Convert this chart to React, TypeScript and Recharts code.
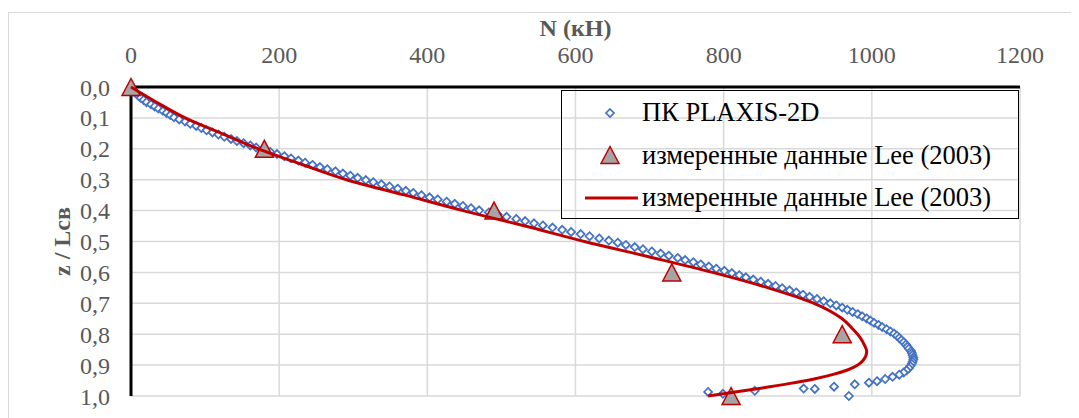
import { ScatterChart, Scatter, XAxis, YAxis, CartesianGrid, Legend } from "recharts";

const FONT = '"Liberation Serif", "Times New Roman", serif';

const X_TICKS = [0, 200, 400, 600, 800, 1000, 1200];
const Y_TICKS = [0, 0.1, 0.2, 0.3, 0.4, 0.5, 0.6, 0.7, 0.8, 0.9, 1.0];

// [N, z/Lсв] — ПК PLAXIS-2D
const PLAXIS: [number, number][] = [
  [0, 0], [2, 0.007], [4, 0.014], [7, 0.021], [10, 0.028], [13, 0.035], [17, 0.042], [21, 0.049],
  [27, 0.056], [32, 0.063], [37, 0.07], [43, 0.077], [48, 0.084], [53, 0.091], [58, 0.098],
  [65, 0.105], [73, 0.112], [80, 0.119], [88, 0.126], [95, 0.133], [102, 0.14], [110, 0.147],
  [118, 0.154], [126, 0.161], [135, 0.168], [143, 0.175], [152, 0.182], [161, 0.189], [169, 0.196],
  [178, 0.203], [188, 0.21], [197, 0.217], [207, 0.224], [216, 0.231], [226, 0.238], [235, 0.245],
  [245, 0.252], [255, 0.259], [265, 0.266], [276, 0.273], [286, 0.28], [296, 0.287], [306, 0.294],
  [317, 0.301], [327, 0.308], [338, 0.315], [349, 0.322], [360, 0.329], [371, 0.336], [381, 0.343],
  [392, 0.35], [403, 0.357], [414, 0.364], [426, 0.371], [437, 0.378], [448, 0.385], [459, 0.392], [470, 0.399],
  [483, 0.406], [495, 0.413], [507, 0.42], [520, 0.427], [532, 0.434], [544, 0.441], [556, 0.448],
  [569, 0.455], [582, 0.462], [594, 0.469], [607, 0.476], [619, 0.483], [632, 0.49], [645, 0.497],
  [657, 0.504], [668, 0.511], [680, 0.518], [691, 0.525], [703, 0.532], [715, 0.539], [726, 0.546],
  [738, 0.553], [748, 0.56], [759, 0.567], [769, 0.574], [780, 0.581], [790, 0.588], [801, 0.595],
  [811, 0.602], [821, 0.609], [830, 0.616], [840, 0.623], [850, 0.63], [860, 0.637], [870, 0.644],
  [879, 0.651], [889, 0.658], [898, 0.665], [907, 0.672], [916, 0.679], [926, 0.686], [935, 0.693],
  [944, 0.7], [952, 0.707], [960, 0.714], [967, 0.721], [974, 0.728], [981, 0.735], [987, 0.742], [993, 0.749],
  [998, 0.756], [1003, 0.763], [1009, 0.77], [1014, 0.777], [1020, 0.784], [1025, 0.791], [1030, 0.798],
  [1034, 0.805], [1037, 0.812], [1040, 0.819], [1043, 0.826], [1046, 0.833], [1048, 0.84], [1050, 0.847],
  [1053, 0.854], [1054, 0.861], [1055, 0.868], [1056, 0.875], [1056, 0.882], [1055, 0.889], [1054, 0.896],
  [1052, 0.903], [1050, 0.91], [1047, 0.917], [1043, 0.924], [1037, 0.931], [1028, 0.938], [1018, 0.945], [1007, 0.952],
  [996, 0.957], [977, 0.962], [949, 0.97], [923, 0.977], [908, 0.976], [842, 0.983], [799, 0.993], [779, 0.987], [969, 1.0],
];

// измеренные данные Lee (2003) — точки
const LEE_POINTS: [number, number][] = [
  [0, 0], [180, 0.2], [490, 0.4], [730, 0.6], [960, 0.8], [810, 1.0],
];

// измеренные данные Lee (2003) — сглаженная линия
const LEE_CURVE: [number, number][] = [
  [0, 0], [35, 0.05], [73, 0.1], [122, 0.15], [172, 0.2], [230, 0.25], [291, 0.3], [370, 0.35],
  [448, 0.4], [532, 0.45], [612, 0.5], [700, 0.55], [785, 0.6], [860, 0.65], [922, 0.7],
  [960, 0.75], [973, 0.78], [984, 0.81], [990, 0.835], [993, 0.855], [992, 0.87], [988, 0.885],
  [981, 0.9], [968, 0.915], [948, 0.93], [922, 0.945], [888, 0.96], [836, 0.98], [779, 1.0],
];

const LEGEND_LABELS = ["ПК PLAXIS-2D", "измеренные данные Lee (2003)", "измеренные данные Lee (2003)"];

const toRows = (pts: [number, number][]) => pts.map(([n, z]) => ({ n, z }));

const BLUE = "#4472C4";
const RED = "#C00000";

const Diamond = ({ cx, cy }: any) => (
  <path
    d={`M${cx},${cy - 4}L${cx + 4},${cy}L${cx},${cy + 4}L${cx - 4},${cy}Z`}
    fill="#fff"
    stroke={BLUE}
    strokeWidth={1.75}
  />
);

const Triangle = ({ cx, cy }: any) => (
  <polygon
    points={`${cx},${cy - 8.5} ${cx + 9},${cy + 8.5} ${cx - 9},${cy + 8.5}`}
    fill="#A5A5A5"
    stroke={RED}
    strokeWidth={1.5}
  />
);

const XTitle = ({ viewBox }: any) => (
  <text
    x={viewBox.x + viewBox.width / 2}
    y={viewBox.y + 28}
    textAnchor="middle"
    fontFamily={FONT}
    fontSize={24}
    fontWeight="bold"
    fill="#595959"
  >
    N (кН)
  </text>
);

const YTitle = ({ viewBox }: any) => {
  const x = viewBox.x + 54;
  const y = viewBox.y + viewBox.height / 2;
  return (
    <text
      x={x}
      y={y}
      dy="0.35em"
      transform={`rotate(-90 ${x} ${y})`}
      textAnchor="middle"
      fontFamily={FONT}
      fontSize={24}
      fontWeight="bold"
      fill="#595959"
    >
      z / Lсв
    </text>
  );
};

function LegendBox() {
  const marker = (i: number) => {
    if (i === 0) return <Diamond cx={48} cy={15} />;
    if (i === 1) return <Triangle cx={48} cy={15} />;
    return <line x1={23} x2={76} y1={15} y2={15} stroke={RED} strokeWidth={3} />;
  };
  return (
    <div
      style={{
        position: "relative",
        width: 458,
        height: 129,
        border: "1.5px solid #000",
        boxSizing: "border-box",
        fontFamily: FONT,
        fontSize: 26.5,
        color: "#000",
      }}
    >
      {LEGEND_LABELS.map((label, i) => (
        <div
          key={i}
          style={{
            position: "absolute",
            left: 0,
            top: 21.5 + i * 42.5 - 15,
            height: 30,
            display: "flex",
            alignItems: "center",
            whiteSpace: "nowrap",
          }}
        >
          <svg width={80} height={30} style={{ display: "block" }}>
            {marker(i)}
          </svg>
          <span>{label}</span>
        </div>
      ))}
    </div>
  );
}

export default function App() {
  return (
    <div style={{ position: "relative", width: 1071, height: 410 }}>
      <div
        style={{
          position: "absolute",
          left: 0,
          top: 4,
          width: 1071,
          height: 406,
          borderTop: "1px solid #D9D9D9",
          borderLeft: "1px solid #D9D9D9",
          boxSizing: "border-box",
        }}
      />
      <ScatterChart width={1071} height={410} margin={{ top: 0, right: 59, bottom: 22, left: 0 }}>
        <CartesianGrid stroke="#D9D9D9" strokeWidth={1.5} />
        <XAxis
          type="number"
          dataKey="n"
          orientation="top"
          domain={[0, 1200]}
          ticks={X_TICKS}
          interval={0}
          height={79}
          axisLine={{ stroke: "#000", strokeWidth: 3 }}
          tickLine={false}
          tickSize={0}
          tickMargin={24}
          tick={{ fill: "#595959", fontSize: 24, fontFamily: FONT }}
          label={{ content: XTitle }}
        />
        <YAxis
          type="number"
          dataKey="z"
          domain={[0, 1]}
          reversed
          ticks={Y_TICKS}
          interval={0}
          width={123}
          axisLine={{ stroke: "#000", strokeWidth: 3 }}
          tickLine={false}
          tickSize={0}
          tickMargin={21}
          tickFormatter={(v: number) => v.toFixed(1).replace(".", ",")}
          tick={{ fill: "#595959", fontSize: 24, fontFamily: FONT }}
          label={{ content: YTitle }}
        />
        <Scatter data={toRows(PLAXIS)} shape={Diamond} isAnimationActive={false} />
        <Scatter data={toRows(LEE_POINTS)} shape={Triangle} isAnimationActive={false} />
        <Scatter
          data={toRows(LEE_CURVE)}
          shape={() => <g />}
          line={{ stroke: RED, strokeWidth: 3 }}
          lineJointType="monotoneY"
          isAnimationActive={false}
        />
        <Legend
          verticalAlign="middle"
          align="center"
          layout="horizontal"
          content={() => <LegendBox />}
          wrapperStyle={{ position: "absolute", left: 553, top: 82, width: 458, height: 129 }}
        />
      </ScatterChart>
    </div>
  );
}
